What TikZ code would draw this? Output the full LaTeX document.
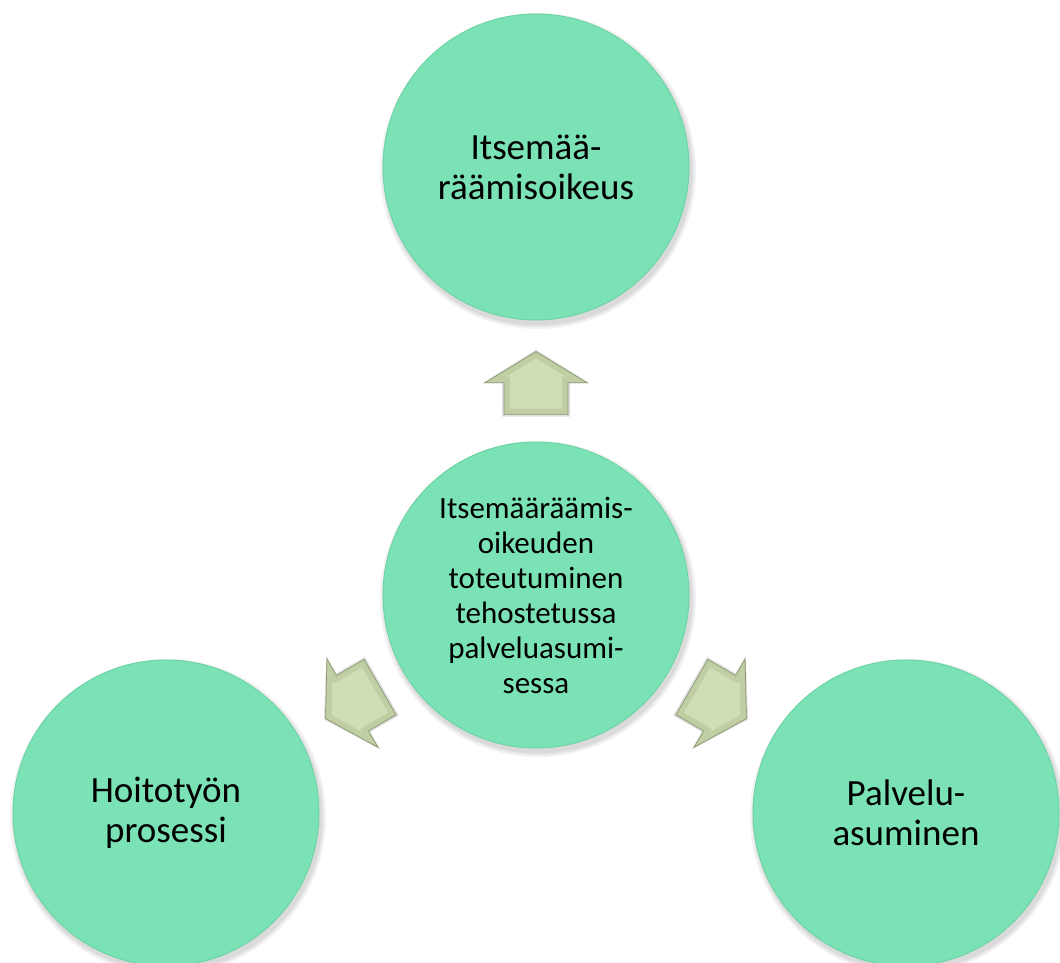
\documentclass[tikz,border=0pt]{standalone}
\usepackage{fontspec}
\setmainfont{Carlito}
\usetikzlibrary{calc}
\definecolor{mint}{RGB}{122,226,180}
\definecolor{mintedge}{RGB}{110,212,166}
\definecolor{olivedark}{RGB}{140,150,112}
\definecolor{olivemid}{RGB}{192,206,164}
\definecolor{olivelight}{RGB}{208,222,184}
\tikzset{
  bubble/.style={circle, minimum size=306pt, inner sep=0pt, fill=mint,
    draw=mintedge, line width=1pt, align=center, text=black},
  bigtext/.style={font=\fontsize{37}{40}\selectfont},
  smalltext/.style={font=\fontsize{31}{35}\selectfont},
  bubbleshadow/.style={fill=black, opacity=0.05},
  blockarrow/.pic={
    \fill[black, opacity=0.12] (33.5,0) -- (-0.5,54) -- (-0.5,34) -- (-33.5,34) -- (-33.5,-34) -- (-0.5,-34) -- (-0.5,-54) -- cycle;
    \filldraw[draw=olivedark, fill=olivemid, line width=0.7pt, line join=miter]
      (31.5,0) -- (0.5,51) -- (0.5,32) -- (-31.5,32) -- (-31.5,-32) -- (0.5,-32) -- (0.5,-51) -- cycle;
    \fill[olivelight] (24.5,0) -- (6.5,29.6) -- (6.5,26) -- (-25.5,26) -- (-25.5,-26) -- (6.5,-26) -- (6.5,-29.6) -- cycle;
  }
}
\begin{document}
\begin{tikzpicture}[x=1pt,y=1pt]
\useasboundingbox (0,0) rectangle (1060,963);
\coordinate (tc) at (536,796);
\coordinate (cc) at (536,368);
\coordinate (lc) at (166,150);
\coordinate (rc) at (906,150);
% soft shadows
\foreach \n in {tc,cc,lc,rc}{
  \fill[bubbleshadow] ([shift={(2,-4)}]\n) circle (158pt);
  \fill[bubbleshadow] ([shift={(2,-4)}]\n) circle (156pt);
  \fill[bubbleshadow] ([shift={(2,-4)}]\n) circle (154.5pt);
}
\node[bubble, bigtext] (top) at (tc) {Itsemää-\\räämisoikeus};
\node[bubble, smalltext] (center) at (cc) {Itsemääräämis-\\oikeuden\\toteutuminen\\tehostetussa\\palveluasumi-\\sessa};
\node[bubble, bigtext] (left) at (lc) {Hoitotyön\\prosessi};
\node[bubble, bigtext] (right) at (rc) {Palvelu-\\asuminen};
% block arrows
\pic[rotate=90] at ($(cc)!0.495!(tc)$) {blockarrow};
\pic[rotate=210] at ($(cc)!0.495!(lc)$) {blockarrow};
\pic[rotate=330] at ($(cc)!0.495!(rc)$) {blockarrow};
\end{tikzpicture}
\end{document}
